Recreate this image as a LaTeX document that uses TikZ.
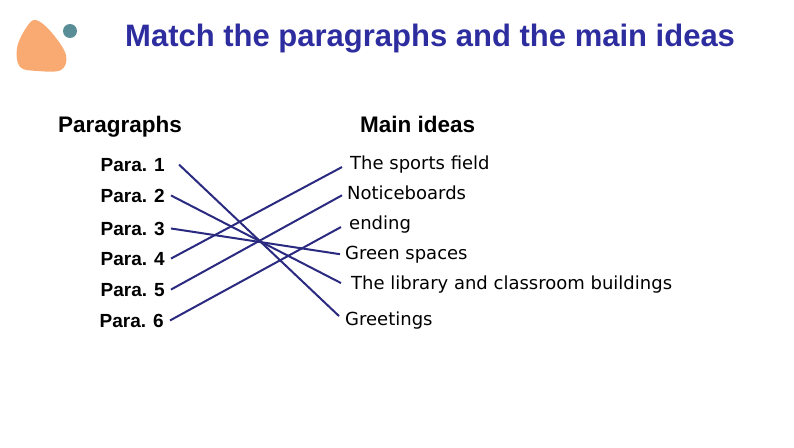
\documentclass[tikz,border=0pt]{standalone}
\usepackage{fontspec}
\setmainfont{Liberation Sans}
\newfontfamily\ideafont{DejaVu Sans}
\definecolor{titleblue}{HTML}{2D2DA0}
\definecolor{linkblue}{HTML}{2A2A80}
\definecolor{blobpeach}{HTML}{F8AA72}
\definecolor{dotteal}{HTML}{5A8E96}
\tikzset{
  para/.style={anchor=base east,font=\fontsize{19}{19}\selectfont\bfseries,inner sep=0pt},
  idea/.style={anchor=base west,font=\ideafont\fontsize{18}{18}\selectfont,inner sep=0pt},
  head/.style={anchor=base west,font=\fontsize{22.5}{22.5}\selectfont\bfseries,inner sep=0pt},
  link/.style={linkblue,line width=2pt}
}

\begin{document}
\begin{tikzpicture}[x=1pt,y=-1pt]
        \useasboundingbox (0,0) rectangle (794,447);
        % decoration
        \fill[blobpeach] plot[smooth cycle,tension=0.6] coordinates {(36,20) (52,33) (66,55) (61,70) (38,71) (20,67) (17,48) (26,28)};
        \fill[dotteal] (70,31) circle (7);
        % title
        \node[anchor=base west,font=\fontsize{31}{31}\selectfont\bfseries,titleblue,inner sep=0pt] (title) at (125,46) {Match the paragraphs and the main ideas};
        % headings
        \node[head] (paras) at (58,132) {Paragraphs};
        \node[head] (ideas) at (360,132) {Main ideas};
        % paragraphs
        \node[para] (p1) at (165,171) {Para. 1};
        \node[para] (p2) at (165,202) {Para. 2};
        \node[para] (p3) at (165,235) {Para. 3};
        \node[para] (p4) at (165,265) {Para. 4};
        \node[para] (p5) at (165,296) {Para. 5};
        \node[para] (p6) at (164,327) {Para. 6};
        % main ideas
        \node[idea] (m1) at (350,169) {The sports field};
        \node[idea] (m2) at (347,199) {Noticeboards};
        \node[idea] (m3) at (349,229) {ending};
        \node[idea] (m4) at (345,259) {Green spaces};
        \node[idea] (m5) at (351,289) {The library and classroom buildings};
        \node[idea] (m6) at (345,325) {Greetings};
        % matches
        \draw[link] ([xshift=14pt]p1.east) -- ([xshift=-6pt,yshift=4pt]m6.west);
        \draw[link] ([xshift=6pt]p2.east) -- ([xshift=-10pt,yshift=1pt]m5.west);
        \draw[link] ([xshift=6pt]p3.east) -- ([xshift=-5pt]m4.west);
        \draw[link] ([xshift=6pt]p4.east) -- ([xshift=-8pt,yshift=-3pt]m1.west);
        \draw[link] ([xshift=6pt]p5.east) -- ([xshift=-5pt,yshift=-3pt]m2.west);
        \draw[link] ([xshift=6pt]p6.east) -- ([xshift=-8pt,yshift=-3pt]m3.west);
\end{tikzpicture}
\end{document}
